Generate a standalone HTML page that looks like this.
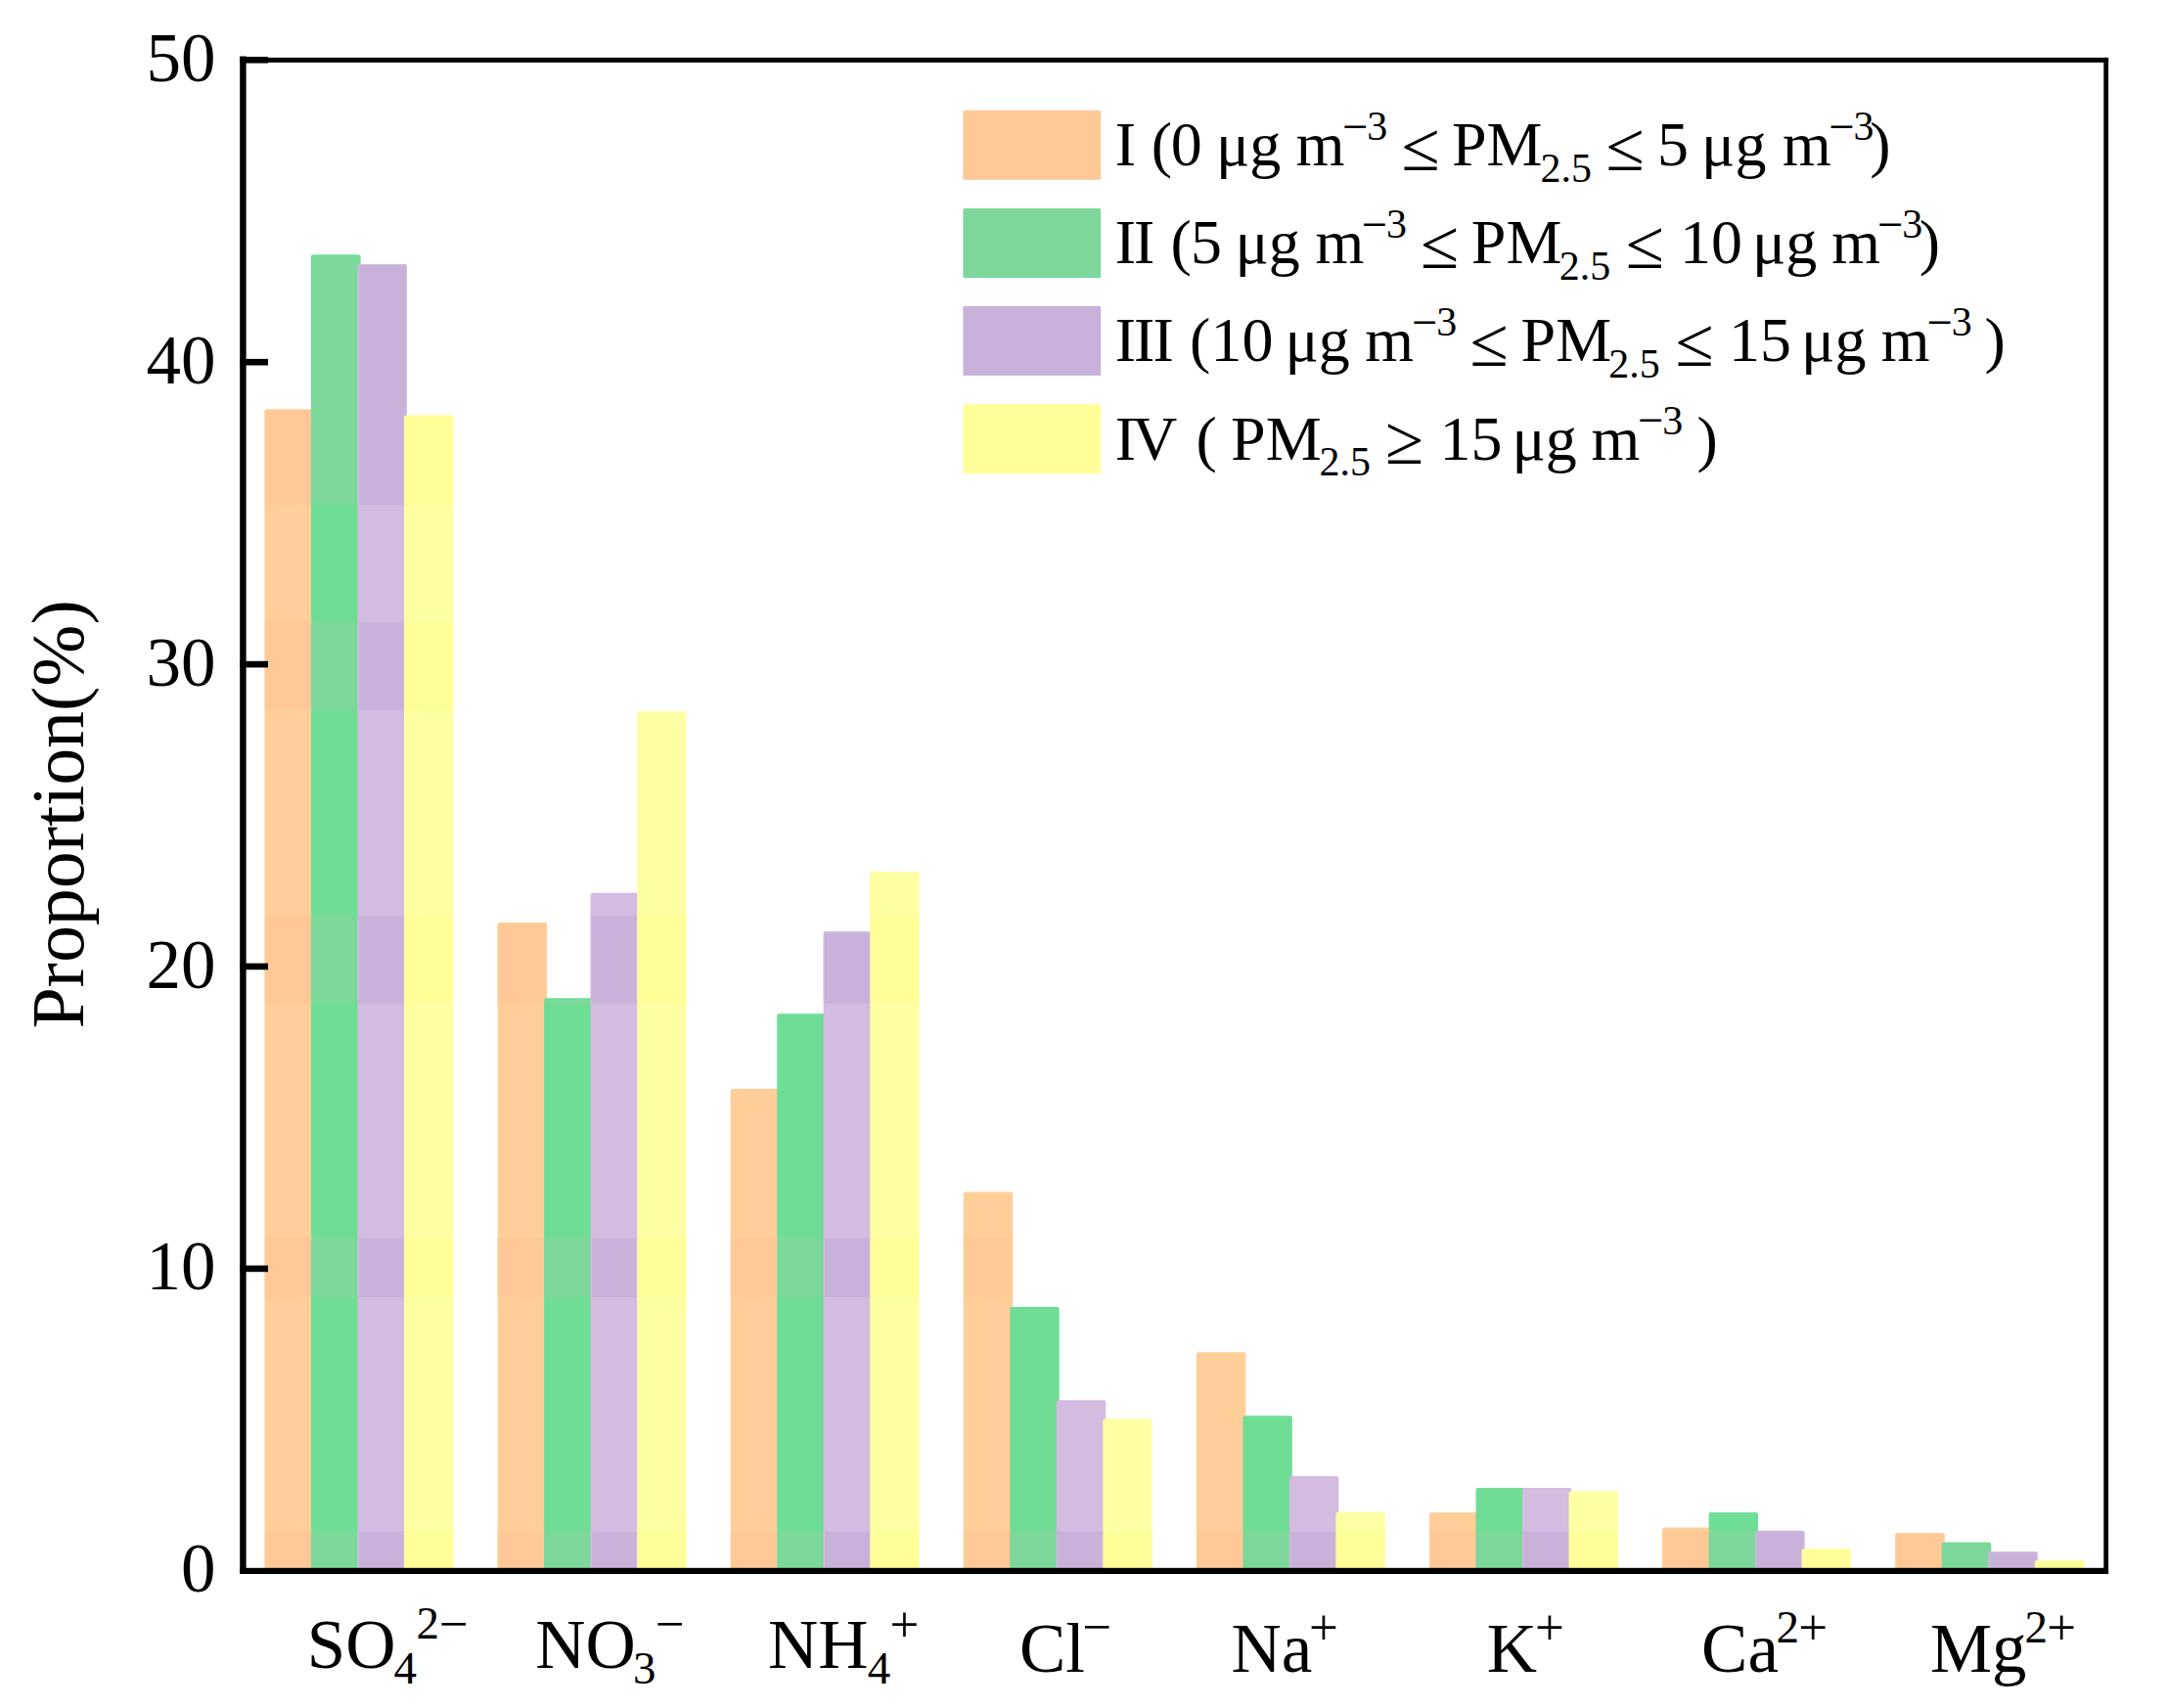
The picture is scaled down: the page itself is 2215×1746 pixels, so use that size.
<!DOCTYPE html>
<html lang="en"><head><meta charset="utf-8"><title>Proportion of water-soluble ions by PM2.5 level</title>
<style>html,body{margin:0;padding:0;background:#fff}body{width:2215px;height:1746px;overflow:hidden}svg{display:block}text{font-family:"Liberation Serif",serif;fill:#000}</style></head><body>
<svg width="2215" height="1746" viewBox="0 0 2215 1746">
<rect width="2215" height="1746" fill="#fff"/>
<defs><clipPath id="ba"><rect x="0" y="0.0" width="2215" height="515.9"/><rect x="0" y="635.8" width="2215" height="90.2"/><rect x="0" y="936.2" width="2215" height="89.5"/><rect x="0" y="1265.6" width="2215" height="60.4"/><rect x="0" y="1565.8" width="2215" height="134.2"/></clipPath></defs>
<g id="bars-b"><rect x="270.50" y="418.5" width="50.40" height="1187.3" rx="2.0" fill="#FFCE99"/><rect x="318.00" y="260.6" width="50.40" height="1345.2" rx="2.0" fill="#70DD96"/><rect x="365.50" y="270.0" width="50.40" height="1335.8" rx="2.0" fill="#D4BBE0"/><rect x="413.00" y="424.5" width="50.40" height="1181.3" rx="2.0" fill="#FFFFA3"/><rect x="508.61" y="943.2" width="50.40" height="662.6" rx="2.0" fill="#FFCE99"/><rect x="556.11" y="1020.5" width="50.40" height="585.3" rx="2.0" fill="#70DD96"/><rect x="603.61" y="912.8" width="50.40" height="693.0" rx="2.0" fill="#D4BBE0"/><rect x="651.11" y="727.2" width="50.40" height="878.6" rx="2.0" fill="#FFFFA3"/><rect x="746.72" y="1113.0" width="50.40" height="492.8" rx="2.0" fill="#FFCE99"/><rect x="794.22" y="1036.2" width="50.40" height="569.6" rx="2.0" fill="#70DD96"/><rect x="841.72" y="952.3" width="50.40" height="653.5" rx="2.0" fill="#D4BBE0"/><rect x="889.22" y="891.0" width="50.40" height="714.8" rx="2.0" fill="#FFFFA3"/><rect x="984.83" y="1218.6" width="50.40" height="387.2" rx="2.0" fill="#FFCE99"/><rect x="1032.33" y="1335.9" width="50.40" height="269.9" rx="2.0" fill="#70DD96"/><rect x="1079.83" y="1431.2" width="50.40" height="174.6" rx="2.0" fill="#D4BBE0"/><rect x="1127.33" y="1450.5" width="50.40" height="155.3" rx="2.0" fill="#FFFFA3"/><rect x="1222.94" y="1382.2" width="50.40" height="223.6" rx="2.0" fill="#FFCE99"/><rect x="1270.44" y="1447.2" width="50.40" height="158.6" rx="2.0" fill="#70DD96"/><rect x="1317.94" y="1509.0" width="50.40" height="96.8" rx="2.0" fill="#D4BBE0"/><rect x="1365.44" y="1545.8" width="50.40" height="60.0" rx="2.0" fill="#FFFFA3"/><rect x="1461.05" y="1546.0" width="50.40" height="59.8" rx="2.0" fill="#FFCE99"/><rect x="1508.55" y="1521.1" width="50.40" height="84.7" rx="2.0" fill="#70DD96"/><rect x="1556.05" y="1521.1" width="50.40" height="84.7" rx="2.0" fill="#D4BBE0"/><rect x="1603.55" y="1524.3" width="50.40" height="81.5" rx="2.0" fill="#FFFFA3"/><rect x="1699.16" y="1561.5" width="50.40" height="44.3" rx="2.0" fill="#FFCE99"/><rect x="1746.66" y="1546.0" width="50.40" height="59.8" rx="2.0" fill="#70DD96"/><rect x="1794.16" y="1564.5" width="50.40" height="41.3" rx="2.0" fill="#D4BBE0"/><rect x="1841.66" y="1583.2" width="50.40" height="22.6" rx="2.0" fill="#FFFFA3"/><rect x="1937.27" y="1567.3" width="50.40" height="38.5" rx="2.0" fill="#FFCE99"/><rect x="1984.77" y="1576.7" width="50.40" height="29.1" rx="2.0" fill="#70DD96"/><rect x="2032.27" y="1586.0" width="50.40" height="19.8" rx="2.0" fill="#D4BBE0"/><rect x="2079.77" y="1595.2" width="50.40" height="10.6" rx="2.0" fill="#FFFFA3"/></g>
<g id="bars-a" clip-path="url(#ba)"><rect x="270.50" y="418.5" width="50.40" height="1187.3" rx="2" fill="#FFCE99"/><rect x="271.70" y="419.7" width="48.00" height="1186.1" rx="0.8" fill="#FFC897"/><rect x="318.00" y="260.6" width="50.40" height="1345.2" rx="2" fill="#70DD96"/><rect x="319.20" y="261.8" width="48.00" height="1344.0" rx="0.8" fill="#7DD79B"/><rect x="365.50" y="270.0" width="50.40" height="1335.8" rx="2" fill="#D4BBE0"/><rect x="366.70" y="271.2" width="48.00" height="1334.6" rx="0.8" fill="#C9B2D9"/><rect x="413.00" y="424.5" width="50.40" height="1181.3" rx="2" fill="#FFFFA3"/><rect x="414.20" y="425.7" width="48.00" height="1180.1" rx="0.8" fill="#FFFF99"/><rect x="508.61" y="943.2" width="50.40" height="662.6" rx="2" fill="#FFCE99"/><rect x="509.81" y="944.4" width="48.00" height="661.4" rx="0.8" fill="#FFC897"/><rect x="556.11" y="1020.5" width="50.40" height="585.3" rx="2" fill="#70DD96"/><rect x="557.31" y="1021.7" width="48.00" height="584.1" rx="0.8" fill="#7DD79B"/><rect x="603.61" y="912.8" width="50.40" height="693.0" rx="2" fill="#D4BBE0"/><rect x="604.81" y="914.0" width="48.00" height="691.8" rx="0.8" fill="#C9B2D9"/><rect x="651.11" y="727.2" width="50.40" height="878.6" rx="2" fill="#FFFFA3"/><rect x="652.31" y="728.4" width="48.00" height="877.4" rx="0.8" fill="#FFFF99"/><rect x="746.72" y="1113.0" width="50.40" height="492.8" rx="2" fill="#FFCE99"/><rect x="747.92" y="1114.2" width="48.00" height="491.6" rx="0.8" fill="#FFC897"/><rect x="794.22" y="1036.2" width="50.40" height="569.6" rx="2" fill="#70DD96"/><rect x="795.42" y="1037.4" width="48.00" height="568.4" rx="0.8" fill="#7DD79B"/><rect x="841.72" y="952.3" width="50.40" height="653.5" rx="2" fill="#D4BBE0"/><rect x="842.92" y="953.5" width="48.00" height="652.3" rx="0.8" fill="#C9B2D9"/><rect x="889.22" y="891.0" width="50.40" height="714.8" rx="2" fill="#FFFFA3"/><rect x="890.42" y="892.2" width="48.00" height="713.6" rx="0.8" fill="#FFFF99"/><rect x="984.83" y="1218.6" width="50.40" height="387.2" rx="2" fill="#FFCE99"/><rect x="986.03" y="1219.8" width="48.00" height="386.0" rx="0.8" fill="#FFC897"/><rect x="1032.33" y="1335.9" width="50.40" height="269.9" rx="2" fill="#70DD96"/><rect x="1033.53" y="1337.1" width="48.00" height="268.7" rx="0.8" fill="#7DD79B"/><rect x="1079.83" y="1431.2" width="50.40" height="174.6" rx="2" fill="#D4BBE0"/><rect x="1081.03" y="1432.4" width="48.00" height="173.4" rx="0.8" fill="#C9B2D9"/><rect x="1127.33" y="1450.5" width="50.40" height="155.3" rx="2" fill="#FFFFA3"/><rect x="1128.53" y="1451.7" width="48.00" height="154.1" rx="0.8" fill="#FFFF99"/><rect x="1222.94" y="1382.2" width="50.40" height="223.6" rx="2" fill="#FFCE99"/><rect x="1224.14" y="1383.4" width="48.00" height="222.4" rx="0.8" fill="#FFC897"/><rect x="1270.44" y="1447.2" width="50.40" height="158.6" rx="2" fill="#70DD96"/><rect x="1271.64" y="1448.4" width="48.00" height="157.4" rx="0.8" fill="#7DD79B"/><rect x="1317.94" y="1509.0" width="50.40" height="96.8" rx="2" fill="#D4BBE0"/><rect x="1319.14" y="1510.2" width="48.00" height="95.6" rx="0.8" fill="#C9B2D9"/><rect x="1365.44" y="1545.8" width="50.40" height="60.0" rx="2" fill="#FFFFA3"/><rect x="1366.64" y="1547.0" width="48.00" height="58.8" rx="0.8" fill="#FFFF99"/><rect x="1461.05" y="1546.0" width="50.40" height="59.8" rx="2" fill="#FFCE99"/><rect x="1462.25" y="1547.2" width="48.00" height="58.6" rx="0.8" fill="#FFC897"/><rect x="1508.55" y="1521.1" width="50.40" height="84.7" rx="2" fill="#70DD96"/><rect x="1509.75" y="1522.3" width="48.00" height="83.5" rx="0.8" fill="#7DD79B"/><rect x="1556.05" y="1521.1" width="50.40" height="84.7" rx="2" fill="#D4BBE0"/><rect x="1557.25" y="1522.3" width="48.00" height="83.5" rx="0.8" fill="#C9B2D9"/><rect x="1603.55" y="1524.3" width="50.40" height="81.5" rx="2" fill="#FFFFA3"/><rect x="1604.75" y="1525.5" width="48.00" height="80.3" rx="0.8" fill="#FFFF99"/><rect x="1699.16" y="1561.5" width="50.40" height="44.3" rx="2" fill="#FFCE99"/><rect x="1700.36" y="1562.7" width="48.00" height="43.1" rx="0.8" fill="#FFC897"/><rect x="1746.66" y="1546.0" width="50.40" height="59.8" rx="2" fill="#70DD96"/><rect x="1747.86" y="1547.2" width="48.00" height="58.6" rx="0.8" fill="#7DD79B"/><rect x="1794.16" y="1564.5" width="50.40" height="41.3" rx="2" fill="#D4BBE0"/><rect x="1795.36" y="1565.7" width="48.00" height="40.1" rx="0.8" fill="#C9B2D9"/><rect x="1841.66" y="1583.2" width="50.40" height="22.6" rx="2" fill="#FFFFA3"/><rect x="1842.86" y="1584.4" width="48.00" height="21.4" rx="0.8" fill="#FFFF99"/><rect x="1937.27" y="1567.3" width="50.40" height="38.5" rx="2" fill="#FFCE99"/><rect x="1938.47" y="1568.5" width="48.00" height="37.3" rx="0.8" fill="#FFC897"/><rect x="1984.77" y="1576.7" width="50.40" height="29.1" rx="2" fill="#70DD96"/><rect x="1985.97" y="1577.9" width="48.00" height="27.9" rx="0.8" fill="#7DD79B"/><rect x="2032.27" y="1586.0" width="50.40" height="19.8" rx="2" fill="#D4BBE0"/><rect x="2033.47" y="1587.2" width="48.00" height="18.6" rx="0.8" fill="#C9B2D9"/><rect x="2079.77" y="1595.2" width="50.40" height="10.6" rx="2" fill="#FFFFA3"/><rect x="2080.97" y="1596.4" width="48.00" height="9.4" rx="0.8" fill="#FFFF99"/></g>
<rect x="984.4" y="112.7" width="140.8" height="71.0" rx="1.5" fill="#FFC897"/>
<rect x="984.4" y="212.9" width="140.8" height="71.0" rx="1.5" fill="#7DD79B"/>
<rect x="984.4" y="313.1" width="140.8" height="71.0" rx="1.5" fill="#C9B2D9"/>
<rect x="984.4" y="413.3" width="140.8" height="71.0" rx="1.5" fill="#FFFF99"/>
<g fill="#000">
<rect x="245.2" y="57.5" width="6.4" height="1551.5"/>
<rect x="2150.3" y="58.9" width="4.8" height="1550.1"/>
<rect x="245.2" y="58.9" width="1909.9" height="5.0"/>
<rect x="245.2" y="1602.8" width="1909.9" height="6.2"/>
<rect x="245.2" y="58.0" width="28.8" height="6.6"/>
<rect x="245.2" y="366.9" width="28.8" height="6.6"/>
<rect x="245.2" y="675.8" width="28.8" height="6.6"/>
<rect x="245.2" y="984.7" width="28.8" height="6.6"/>
<rect x="245.2" y="1293.6" width="28.8" height="6.6"/>
</g>
<text x="220.6" y="82.8" font-size="71" text-anchor="end">50</text>
<text x="220.6" y="391.7" font-size="71" text-anchor="end">40</text>
<text x="220.6" y="700.6" font-size="71" text-anchor="end">30</text>
<text x="220.6" y="1009.5" font-size="71" text-anchor="end">20</text>
<text x="220.6" y="1318.4" font-size="71" text-anchor="end">10</text>
<text x="220.6" y="1627.3" font-size="71" text-anchor="end">0</text>
<text transform="translate(85.2,1051.6) rotate(-90)" font-size="75.9">Proportion(%)</text>
<text font-size="71"><tspan x="313.8" y="1705.0">SO</tspan><tspan x="402.5" y="1720.6" font-size="47">4</tspan><tspan x="425.6" y="1675.4" font-size="47">2</tspan><tspan x="449.1" y="1677.6" font-size="53">−</tspan></text>
<text font-size="71"><tspan x="547.2" y="1705.0">NO</tspan><tspan x="647.1" y="1720.6" font-size="47">3</tspan><tspan x="669.9" y="1677.6" font-size="53">−</tspan></text>
<text font-size="71"><tspan x="785.1" y="1705.0">NH</tspan><tspan x="886.8" y="1720.6" font-size="47">4</tspan><tspan x="909.4" y="1677.6" font-size="53">+</tspan></text>
<text font-size="71"><tspan x="1042.0" y="1708.6">Cl</tspan><tspan x="1106.6" y="1681.0" font-size="53">−</tspan></text>
<text font-size="71"><tspan x="1258.4" y="1708.6">Na</tspan><tspan x="1338.0" y="1681.0" font-size="53">+</tspan></text>
<text font-size="71"><tspan x="1519.7" y="1708.6">K</tspan><tspan x="1568.9" y="1681.0" font-size="53">+</tspan></text>
<text font-size="71"><tspan x="1739.1" y="1708.6">Ca</tspan><tspan x="1815.5" y="1679.4" font-size="47">2</tspan><tspan x="1838.3" y="1681.0" font-size="53">+</tspan></text>
<text font-size="71"><tspan x="1972.9" y="1708.6">Mg</tspan><tspan x="2069.4" y="1679.4" font-size="47">2</tspan><tspan x="2092.2" y="1681.0" font-size="53">+</tspan></text>
<text font-size="64" xml:space="preserve"><tspan x="1139.7" y="169.0">I </tspan><tspan x="1176.7" y="169.0">(</tspan><tspan x="1196.8" y="169.0">0 </tspan><tspan x="1242.9" y="169.0">μg </tspan><tspan x="1324.7" y="169.0">m</tspan><tspan x="1372.0" y="144.8" font-size="46.6">−</tspan><tspan x="1397.2" y="143.0" font-size="42">3 </tspan><tspan x="1432.4" y="173.6" font-size="71.3">≤ </tspan><tspan x="1484.0" y="169.0">PM</tspan><tspan x="1574.6" y="185.6" font-size="42">2.5 </tspan><tspan x="1641.6" y="173.6" font-size="71.3">≤ </tspan><tspan x="1694.0" y="169.0">5 </tspan><tspan x="1739.1" y="169.0">μg </tspan><tspan x="1822.1" y="169.0">m</tspan><tspan x="1869.2" y="144.8" font-size="46.6">−</tspan><tspan x="1894.4" y="143.0" font-size="42">3</tspan><tspan x="1911.3" y="169.0">)</tspan></text>
<text font-size="64" xml:space="preserve"><tspan x="1139.7" y="269.2" letter-spacing="-1.9">II </tspan><tspan x="1196.4" y="269.2">(</tspan><tspan x="1217.0" y="269.2">5 </tspan><tspan x="1262.5" y="269.2">μg </tspan><tspan x="1344.4" y="269.2">m</tspan><tspan x="1391.7" y="245.0" font-size="46.6">−</tspan><tspan x="1416.9" y="243.2" font-size="42">3 </tspan><tspan x="1451.9" y="273.8" font-size="71.3">≤ </tspan><tspan x="1503.8" y="269.2">PM</tspan><tspan x="1593.7" y="285.8" font-size="42">2.5 </tspan><tspan x="1661.7" y="273.8" font-size="71.3">≤ </tspan><tspan x="1716.9" y="269.2">10 </tspan><tspan x="1790.9" y="269.2">μg </tspan><tspan x="1872.3" y="269.2">m</tspan><tspan x="1919.1" y="245.0" font-size="46.6">−</tspan><tspan x="1944.3" y="243.2" font-size="42">3</tspan><tspan x="1961.7" y="269.2">)</tspan></text>
<text font-size="64" xml:space="preserve"><tspan x="1139.7" y="369.4" letter-spacing="-1.9">III </tspan><tspan x="1216.0" y="369.4">(</tspan><tspan x="1237.5" y="369.4">10 </tspan><tspan x="1313.5" y="369.4">μg </tspan><tspan x="1395.2" y="369.4">m</tspan><tspan x="1443.0" y="345.2" font-size="46.6">−</tspan><tspan x="1468.2" y="343.4" font-size="42">3 </tspan><tspan x="1502.6" y="374.0" font-size="71.3">≤ </tspan><tspan x="1554.6" y="369.4">PM</tspan><tspan x="1644.2" y="386.0" font-size="42">2.5 </tspan><tspan x="1712.5" y="374.0" font-size="71.3">≤ </tspan><tspan x="1767.0" y="369.4">15 </tspan><tspan x="1841.1" y="369.4">μg </tspan><tspan x="1922.7" y="369.4">m</tspan><tspan x="1969.5" y="345.2" font-size="46.6">−</tspan><tspan x="1994.7" y="343.4" font-size="42">3 </tspan><tspan x="2028.4" y="369.4">)</tspan></text>
<text font-size="64" xml:space="preserve"><tspan x="1139.7" y="469.6" letter-spacing="-4">IV </tspan><tspan x="1222.6" y="469.6">( </tspan><tspan x="1258.1" y="469.6">PM</tspan><tspan x="1348.4" y="486.2" font-size="42">2.5 </tspan><tspan x="1416.1" y="474.2" font-size="71.3">≥ </tspan><tspan x="1471.6" y="469.6">15 </tspan><tspan x="1545.4" y="469.6">μg </tspan><tspan x="1626.6" y="469.6">m</tspan><tspan x="1674.0" y="445.4" font-size="46.6">−</tspan><tspan x="1699.2" y="443.6" font-size="42">3 </tspan><tspan x="1734.4" y="469.6">)</tspan></text>
</svg></body></html>
